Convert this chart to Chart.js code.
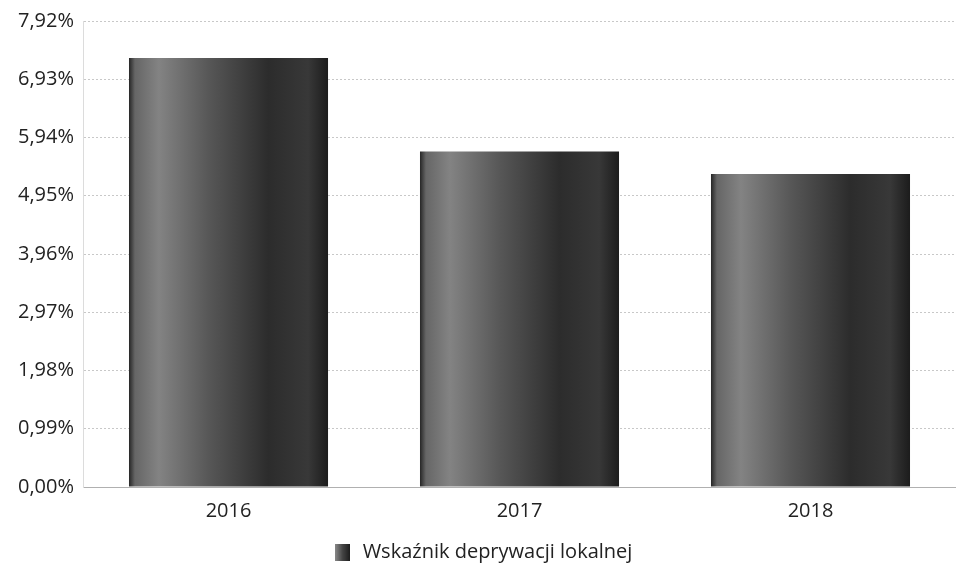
<!DOCTYPE html>
<html lang="pl">
<head>
<meta charset="utf-8">
<title>Wskaźnik deprywacji lokalnej</title>
<script src="https://cdn.jsdelivr.net/npm/chart.js@4/dist/chart.umd.min.js"></script>
<style>
    html, body { margin: 0; padding: 0; background: #fff; }
    .chart-box { position: relative; width: 956px; height: 567px; }
</style>
</head>
<body>
<div class="chart-box"><canvas id="deprivationChart"></canvas></div>
<script>
// ── Data ──
const years = ['2016', '2017', '2018'];
const deprivationValues = [7.29, 5.70, 5.32];
const yTickValues = [0, 0.99, 1.98, 2.97, 3.96, 4.95, 5.94, 6.93, 7.92];
const yTickLabels = ['0,00%', '0,99%', '1,98%', '2,97%', '3,96%', '4,95%', '5,94%', '6,93%', '7,92%'];
const seriesLabel = 'Wskaźnik deprywacji lokalnej';

const BAR_PCT = 0.76;
const CAT_PCT = 0.9;
const FONT = '"Open Sans", sans-serif';

// grey "metallic" fill, light on the left and dark on the right
function barFill(context) {
    const chart = context.chart;
    const xScale = chart.scales.x;
    if (!xScale || !xScale.width) return '#555';
    const cx = xScale.getPixelForValue(context.dataIndex);
    const w = (xScale.width / years.length) * BAR_PCT * CAT_PCT;
    const g = chart.ctx.createLinearGradient(cx - w / 2, 0, cx + w / 2, 0);
    g.addColorStop(0, '#262626');
    g.addColorStop(0.03, '#666');
    g.addColorStop(0.15, '#838383');
    g.addColorStop(0.4, '#575757');
    g.addColorStop(0.7, '#2c2c2c');
    g.addColorStop(0.9, '#383838');
    g.addColorStop(1, '#1c1c1c');
    return g;
}

function legendBox() {
    const c = document.createElement('canvas');
    c.width = 15; c.height = 17;
    const x = c.getContext('2d');
    const g = x.createLinearGradient(0, 0, 15, 0);
    g.addColorStop(0, '#888');
    g.addColorStop(0.5, '#444');
    g.addColorStop(1, '#1c1c1c');
    x.fillStyle = g;
    x.fillRect(0, 0, 15, 17);
    return c;
}

const ctx = document.getElementById('deprivationChart').getContext('2d');

new Chart(ctx, {
    type: 'bar',
    data: {
        labels: years,
        datasets: [{
            label: seriesLabel,
            data: deprivationValues,
            backgroundColor: barFill,
            borderWidth: 0,
            barPercentage: BAR_PCT,
            categoryPercentage: CAT_PCT
        }]
    },
    options: {
        responsive: true,
        maintainAspectRatio: false,
        animation: false,
        // the legend keeps a fixed 10px gap under it; pull it lower
        layout: { padding: { top: 11, right: 0, left: 9, bottom: -5 } },
        plugins: {
            tooltip: { enabled: false },
            legend: {
                position: 'bottom',
                labels: {
                    color: '#222',
                    font: { family: FONT, size: 20 },
                    usePointStyle: true,
                    padding: 10,
                    generateLabels: function () {
                        return [{
                            text: seriesLabel,
                            pointStyle: legendBox(),
                            fillStyle: '#444',
                            strokeStyle: 'transparent',
                            lineWidth: 0,
                            datasetIndex: 0,
                            fontColor: '#222'
                        }];
                    }
                }
            }
        },
        scales: {
            x: {
                grid: { display: false },
                border: { display: true, color: '#b0b0b0' },
                afterFit: function (axis) { axis.height += 5; },
                ticks: {
                    color: '#222',
                    font: { family: FONT, size: 20 },
                    padding: 4
                }
            },
            y: {
                min: 0,
                max: 7.92,
                afterBuildTicks: function (axis) {
                    axis.ticks = yTickValues.map(v => ({ value: v }));
                },
                grid: {
                    color: '#c8c8c8',
                    drawTicks: false
                },
                border: { display: true, color: '#dcdcdc', dash: [2, 2] },
                ticks: {
                    color: '#222',
                    font: { family: FONT, size: 20 },
                    padding: 9,
                    callback: function (val, index) { return yTickLabels[index]; }
                }
            }
        }
    }
});
</script>
</body>
</html>
